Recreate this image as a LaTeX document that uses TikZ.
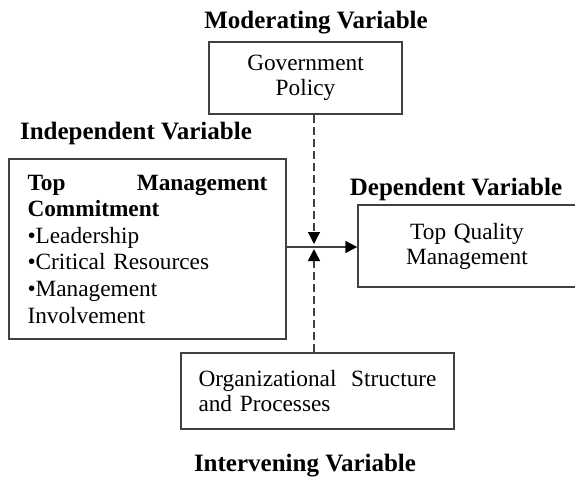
\documentclass[tikz,border=0pt]{standalone}
\usepackage{fontspec}
\setmainfont{Liberation Serif}
\usetikzlibrary{arrows.meta}
\definecolor{linegray}{HTML}{404040}
\tikzset{
  box/.style={draw=linegray, line width=1.5pt, inner sep=0pt, align=center,
    font=\fontsize{23.3}{25}\selectfont},
  varlabel/.style={inner sep=0pt, font=\fontsize{25}{28}\selectfont\bfseries},
  conn/.style={draw=linegray, line width=1.5pt},
  dashconn/.style={conn, dash pattern=on 8pt off 4pt},
  tip/.style={-{Triangle[length=12pt,width=12pt,black]}}
}
\begin{document}
\begin{tikzpicture}[x=1pt,y=-1pt]
\useasboundingbox (0,0) rectangle (575,480);
% labels
\node[varlabel] (lmod) at (316,23) {Moderating Variable};
\node[varlabel] (lind) at (136,133) {Independent Variable};
\node[varlabel] (ldep) at (456,189) {Dependent Variable};
\node[varlabel] (lint) at (305,466) {Intervening Variable};
% boxes
\node[box, minimum width=193pt, minimum height=72pt, text width=180pt] (gov) at (305.5,78) {Government\\Policy};
\node[box, minimum width=277pt, minimum height=180pt, text width=240pt, align=left,
  font=\fontsize{23.3}{26.6}\selectfont] (tmc) at (147.5,249)
  {\makebox[240pt][l]{\bfseries Top\hfill Management}\\
   \textbf{Commitment}\\
   \textbullet Leadership\\
   \textbullet Critical Resources\\
   \textbullet Management\\
   Involvement};
\node[box, minimum width=218pt, minimum height=82pt, text width=200pt] (tqm) at (467,246) {Top Quality\\Management};
\node[box, minimum width=273pt, minimum height=76pt, text width=238pt, align=left] (osp) at (317.5,391)
  {\makebox[238pt][l]{Organizational\hfill Structure}\\and Processes};
% connectors
\coordinate (jd) at (314,244);
\coordinate (ju) at (314,249);
\coordinate (jh) at (314,247);
\draw[conn, tip] (tmc.east |- jh) -- (tqm.west |- jh);
\draw[dashconn, tip] (jd |- gov.south) -- (jd);
\draw[dashconn, tip] (ju |- osp.north) -- (ju);
\end{tikzpicture}
\end{document}
